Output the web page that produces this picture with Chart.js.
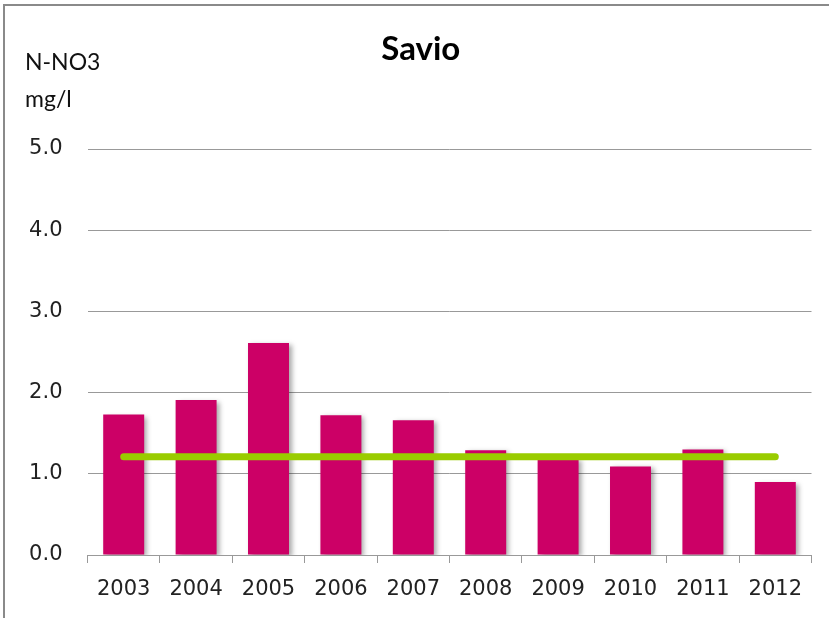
<!DOCTYPE html>
<html>
<head>
<meta charset="utf-8">
<script src="https://cdn.jsdelivr.net/npm/chart.js@4/dist/chart.umd.min.js"></script>
<style>
  body { margin: 0; background: #fff; }
  #wrap { position: absolute; left: 0; top: 0; width: 829px; height: 618px; }
  #frame { position: absolute; left: 3px; top: 4px; width: 900px; height: 700px;
           border-left: 2px solid #8a8a8a; border-top: 2px solid #8a8a8a; pointer-events: none; }
</style>
</head>
<body>
<div id="wrap"><canvas id="myChart"></canvas></div>
<div id="frame"></div>
<script>
  const years = ['2003', '2004', '2005', '2006', '2007', '2008', '2009', '2010', '2011', '2012'];
  const nitrate = [1.73, 1.91, 2.61, 1.72, 1.66, 1.29, 1.20, 1.09, 1.30, 0.90];
  const referenceValue = 1.21;
  const yTicks = [0, 1, 2, 3, 4, 5];

  const refLine = years.map(() => referenceValue);

  const tickFont = { family: 'DejaVu Sans', size: 21 };

  // shadow behind the bars, like the original spreadsheet chart
  const barShadow = {
    id: 'barShadow',
    beforeDatasetDraw(chart, args) {
      if (args.index !== 0) return;
      const ctx = chart.ctx;
      ctx.save();
      ctx.shadowColor = 'rgba(0,0,0,0.35)';
      ctx.shadowBlur = 5;
      ctx.shadowOffsetX = 3;
      ctx.shadowOffsetY = 2;
    },
    afterDatasetDraw(chart, args) {
      if (args.index !== 0) return;
      chart.ctx.restore();
    }
  };

  const unitLabel = {
    id: 'unitLabel',
    afterDraw(chart) {
      const ctx = chart.ctx;
      ctx.save();
      ctx.fillStyle = '#111';
      ctx.font = '23px Lato';
      ctx.textBaseline = 'alphabetic';
      ctx.textAlign = 'left';
      ctx.fillText('N-NO3', 25, 70);
      ctx.fillText('mg/l', 25, 107);
      ctx.restore();
    }
  };

  const ctx = document.getElementById('myChart').getContext('2d');
  new Chart(ctx, {
    type: 'bar',
    data: {
      labels: years,
      datasets: [
        {
          type: 'bar',
          data: nitrate,
          backgroundColor: '#CC0066',
          barPercentage: 0.566,
          categoryPercentage: 1,
          order: 1
        },
        {
          type: 'line',
          data: refLine,
          borderColor: '#99CC00',
          borderWidth: 7,
          borderCapStyle: 'round',
          pointRadius: 0,
          fill: false,
          order: 0
        }
      ]
    },
    options: {
      responsive: true,
      maintainAspectRatio: false,
      animation: false,
      layout: { padding: { left: 30, right: 17.5, top: 0, bottom: 0 } },
      plugins: {
        legend: { display: false },
        tooltip: { enabled: false },
        title: {
          display: true,
          text: 'Savio',
          color: '#000',
          font: { family: 'Lato', size: 33, weight: 'bold' },
          padding: { top: 30, bottom: 79.4 }
        }
      },
      scales: {
        x: {
          afterFit(scale) { scale.height = 63; },
          grid: {
            display: true,
            offset: true,
            drawOnChartArea: false,
            tickLength: 8,
            color: '#999'
          },
          border: { display: true, color: '#999' },
          ticks: { font: tickFont, color: '#222', padding: 14, maxRotation: 0 }
        },
        y: {
          min: 0,
          max: 5,
          afterFit(scale) { scale.width = 57.5; },
          afterBuildTicks(scale) { scale.ticks = yTicks.map(v => ({ value: v })); },
          grid: { color: '#999', drawTicks: false },
          border: { display: false },
          ticks: {
            font: tickFont,
            color: '#222',
            padding: 25,
            callback: v => Number(v).toFixed(1)
          }
        }
      }
    },
    plugins: [barShadow, unitLabel]
  });
</script>
</body>
</html>
